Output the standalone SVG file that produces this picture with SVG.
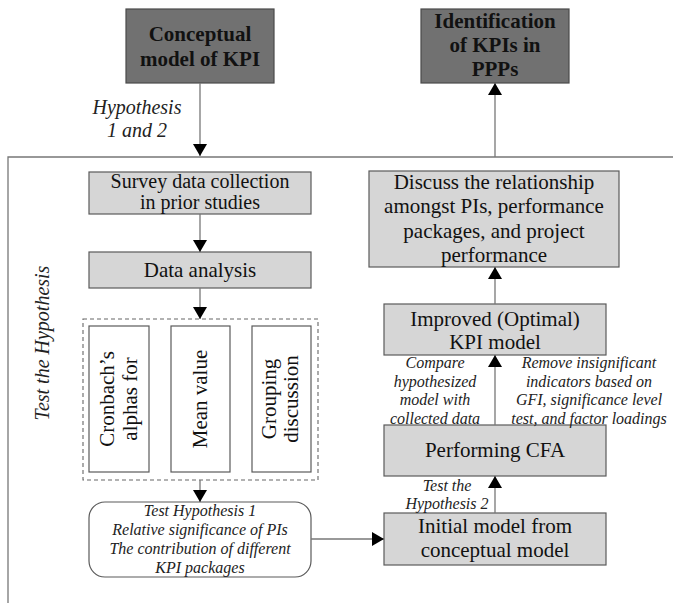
<svg xmlns="http://www.w3.org/2000/svg" width="673" height="603" viewBox="0 0 673 603">
<style>
.dark{fill:#717171;stroke:#4a4a4a;stroke-width:1.2}
.light{fill:#d6d6d6;stroke:#5a5a5a;stroke-width:1.2}
.white{fill:#ffffff;stroke:#5a5a5a;stroke-width:1.2}
.tb{font-family:"Liberation Serif",serif;font-size:21px;font-weight:bold;fill:#111;text-anchor:middle}
.t{font-family:"Liberation Serif",serif;font-size:21px;fill:#111;text-anchor:middle}
.ts{font-family:"Liberation Serif",serif;font-size:20px;fill:#111;text-anchor:middle}
.ti{font-family:"Liberation Serif",serif;font-size:16px;font-style:italic;fill:#222;text-anchor:middle}
.tl{font-family:"Liberation Serif",serif;font-size:20px;font-style:italic;fill:#222;text-anchor:middle}
.c{fill:none;stroke:#777;stroke-width:1.3}
</style>
<defs>
<marker id="ah" viewBox="0 0 12 14" refX="12" refY="7" markerWidth="12" markerHeight="14" markerUnits="userSpaceOnUse" orient="auto">
<path d="M0,0 L12,7 L0,14 Z" fill="#000"/>
</marker>
</defs>
<rect width="673" height="603" fill="#fff"/>
<g id="container">
<path d="M8,603 L8,157 L673,157" fill="none" stroke="#777" stroke-width="1.3"/>
<text class="tl" transform="translate(49,343) rotate(-90)">Test the Hypothesis</text>
</g>
<g id="conceptual">
<rect class="dark" x="126" y="9" width="148" height="74"/>
<text class="tb" x="200" y="41">Conceptual</text>
<text class="tb" x="200" y="66">model of KPI</text>
</g>
<g id="identification">
<rect class="dark" x="421" y="9" width="148" height="74"/>
<text class="tb" x="495" y="28">Identification</text>
<text class="tb" x="495" y="52">of KPIs in</text>
<text class="tb" x="495" y="76">PPPs</text>
</g>
<g id="survey">
<rect class="light" x="89" y="172" width="222" height="42"/>
<text class="ts" x="200" y="188">Survey data collection</text>
<text class="ts" x="200" y="209">in prior studies</text>
</g>
<g id="analysis">
<rect class="light" x="89" y="252" width="222" height="36"/>
<text class="t" x="200" y="277">Data analysis</text>
</g>
<g id="methods">
<rect x="83" y="319" width="235" height="161" fill="none" stroke="#666" stroke-width="1.1" stroke-dasharray="4,3"/>
<rect class="white" x="89" y="326" width="60" height="146"/>
<text class="t" transform="translate(114,399) rotate(-90)">Cronbach’s</text>
<text class="t" transform="translate(137,399) rotate(-90)">alphas for</text>
<rect class="white" x="171" y="326" width="59" height="146"/>
<text class="t" transform="translate(207,399) rotate(-90)">Mean value</text>
<rect class="white" x="252" y="326" width="59" height="146"/>
<text class="t" transform="translate(276,399) rotate(-90)">Grouping</text>
<text class="t" transform="translate(298,399) rotate(-90)">discussion</text>
</g>
<g id="test1">
<rect class="white" x="89" y="502" width="222" height="75" rx="16" ry="16"/>
<text class="ti" x="200" y="516">Test Hypothesis 1</text>
<text class="ti" x="200" y="535">Relative significance of PIs</text>
<text class="ti" x="200" y="554">The contribution of different</text>
<text class="ti" x="200" y="573">KPI packages</text>
</g>
<g id="discuss">
<rect class="light" x="369" y="171" width="250" height="96"/>
<text class="t" x="494" y="189">Discuss the relationship</text>
<text class="t" x="494" y="213">amongst PIs, performance</text>
<text class="t" x="494" y="238">packages, and project</text>
<text class="t" x="494" y="262">performance</text>
</g>
<g id="improved">
<rect class="light" x="384" y="304" width="222" height="51"/>
<text class="t" x="495" y="326">Improved (Optimal)</text>
<text class="t" x="495" y="349">KPI model</text>
</g>
<g id="cfa">
<rect class="light" x="384" y="425" width="222" height="51"/>
<text class="t" x="495" y="457">Performing CFA</text>
</g>
<g id="initial">
<rect class="light" x="384" y="513" width="222" height="52"/>
<text class="t" x="495" y="533">Initial model from</text>
<text class="t" x="495" y="557">conceptual model</text>
</g>
<g id="connectors">
<line class="c" x1="200" y1="83" x2="200" y2="156" marker-end="url(#ah)"/>
<line class="c" x1="495" y1="157" x2="495" y2="83" marker-end="url(#ah)"/>
<line class="c" x1="200" y1="214" x2="200" y2="252" marker-end="url(#ah)"/>
<line class="c" x1="200" y1="288" x2="200" y2="319" marker-end="url(#ah)"/>
<line class="c" x1="200" y1="480" x2="200" y2="502" marker-end="url(#ah)"/>
<line class="c" x1="311" y1="539" x2="384" y2="539" marker-end="url(#ah)"/>
<line class="c" x1="495" y1="513" x2="495" y2="476" marker-end="url(#ah)"/>
<line class="c" x1="495" y1="425" x2="495" y2="355" marker-end="url(#ah)"/>
<line class="c" x1="495" y1="304" x2="495" y2="267" marker-end="url(#ah)"/>
<text class="tl" x="137" y="114">Hypothesis</text>
<text class="tl" x="137" y="137">1 and 2</text>
<text class="ti" x="435" y="368">Compare</text>
<text class="ti" x="435" y="387">hypothesized</text>
<text class="ti" x="435" y="405">model with</text>
<text class="ti" x="435" y="424">collected data</text>
<text class="ti" x="589" y="368">Remove insignificant</text>
<text class="ti" x="589" y="387">indicators based on</text>
<text class="ti" x="589" y="405">GFI, significance level</text>
<text class="ti" x="589" y="424">test, and factor loadings</text>
<text class="ti" x="447" y="491">Test the</text>
<text class="ti" x="447" y="509">Hypothesis 2</text>
</g>
</svg>
